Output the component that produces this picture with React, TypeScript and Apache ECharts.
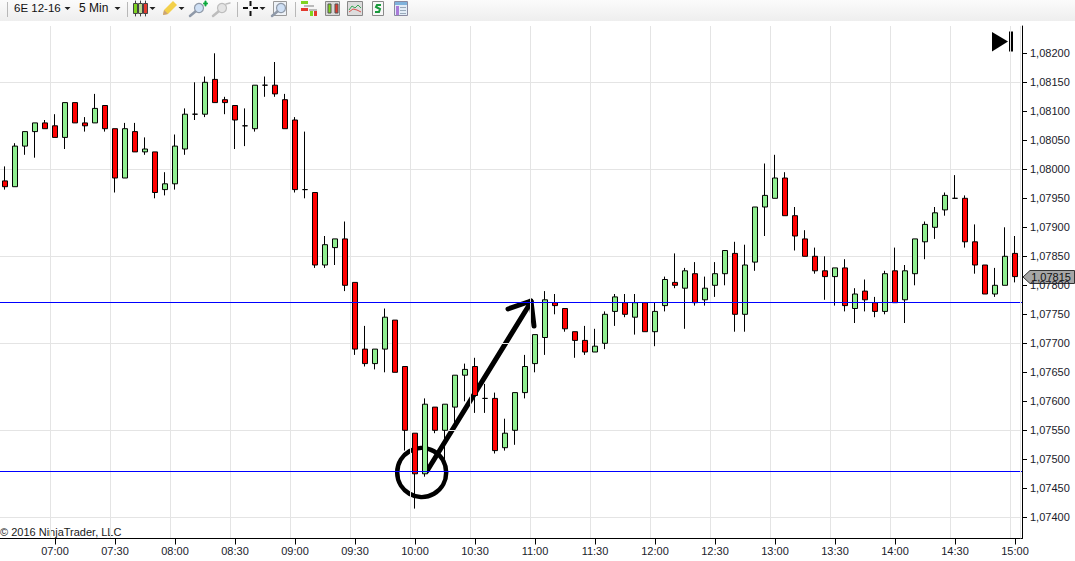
import React, { useEffect, useRef } from "react";
import * as echarts from "echarts";

// Prices in units of 0.00001, one bar every 5 minutes from 06:35 to 15:00
const opens = [107980,107970,108040,108065,108080,108075,108055,108115,108080,108080,108110,108070,107985,108065,108030,108030,107965,107975,108035,108095,108095,108155,108120,108110,108075,108070,108145,108145,108120,108085,107965,107960,107835,107865,107880,107805,107690,107665,107690,107740,107660,107545,107475,107590,107550,107590,107645,107660,107605,107605,107520,107550,107615,107665,107710,107770,107760,107720,107705,107685,107700,107755,107770,107745,107770,107720,107765,107805,107795,107820,107775,107800,107820,107855,107750,107840,107935,107950,107985,107920,107880,107850,107825,107815,107830,107760,107790,107770,107755,107825,107775,107820,107875,107900,107930,107950,107950,107875,107835,107785,107800,107855];
const closes = [107970,108040,108065,108080,108070,108055,108115,108080,108075,108105,108070,107985,108070,108030,108035,107960,107975,108040,108095,108095,108150,108115,108115,108085,108075,108145,108145,108130,108070,107965,107965,107835,107870,107880,107800,107690,107665,107690,107745,107650,107550,107475,107595,107550,107595,107645,107655,107610,107605,107515,107545,107615,107660,107715,107775,107765,107725,107705,107685,107695,107750,107780,107750,107770,107720,107755,107810,107800,107825,107770,107795,107820,107860,107750,107835,107935,107955,107985,107920,107885,107850,107825,107815,107830,107765,107785,107775,107755,107820,107770,107825,107880,107905,107925,107955,107950,107875,107835,107785,107800,107850,107815];
const lows = [107965,107970,108025,108020,108070,108055,108035,108080,108065,108080,108065,107960,107985,108030,108025,107950,107955,107965,108025,108085,108090,108115,108095,108035,108040,108065,108125,108125,108070,107960,107950,107830,107830,107835,107790,107680,107660,107655,107650,107650,107515,107415,107470,107545,107500,107555,107600,107580,107580,107510,107515,107525,107605,107650,107680,107750,107720,107675,107680,107685,107690,107730,107745,107715,107720,107695,107755,107795,107725,107765,107765,107780,107800,107720,107720,107825,107885,107950,107920,107860,107850,107820,107775,107765,107755,107735,107755,107745,107750,107770,107735,107800,107845,107880,107920,107950,107865,107820,107785,107780,107800,107805];
const highs = [108005,108045,108065,108080,108085,108095,108115,108115,108090,108130,108110,108070,108080,108080,108055,108030,107995,108060,108105,108150,108160,108200,108125,108110,108105,108145,108160,108185,108130,108090,108065,107960,107885,107880,107910,107805,107730,107690,107760,107740,107660,107545,107605,107590,107595,107645,107665,107675,107630,107615,107570,107615,107680,107715,107790,107785,107760,107720,107730,107725,107755,107785,107785,107785,107770,107770,107815,107855,107830,107840,107815,107840,107860,107875,107870,107935,108010,108025,107995,107935,107895,107865,107850,107830,107845,107795,107810,107780,107825,107865,107835,107880,107910,107935,107960,107990,107955,107905,107835,107830,107900,107885];

const firstBarMinutes = 6 * 60 + 35;
const labelledTimes = ["07:00","07:30","08:00","08:30","09:00","09:30","10:00","10:30","11:00","11:30","12:00","12:30","13:00","13:30","14:00","14:30","15:00"];
const priceTicks = [1.074,1.0745,1.075,1.0755,1.076,1.0765,1.077,1.0775,1.078,1.0785,1.079,1.0795,1.08,1.0805,1.081,1.0815,1.082];
const priceGridLines = [1.074,1.0755,1.077,1.0785,1.08,1.0815];
const levelUpper = 1.07771;
const levelLower = 1.07479;
const lastPrice = "1,07815";

const pad = (n: number) => String(n).padStart(2, "0");
const categories = opens.map((_, i) => {
  const m = firstBarMinutes + i * 5;
  return `${pad(Math.floor(m / 60))}:${pad(m % 60)}`;
});
const candleData = opens.map((o, i) => [o / 1e5, closes[i] / 1e5, lows[i] / 1e5, highs[i] / 1e5]);
const isLabelled = (_: number, v: string) => labelledTimes.includes(v);
const FONT = "'Liberation Sans', Arial, sans-serif";

const rect = (x: number, y: number, w: number, h: number, fill: string, stroke?: string) => ({
  type: "rect", shape: { x, y, width: w, height: h }, style: { fill, stroke: stroke ?? "none", lineWidth: stroke ? 1 : 0 },
});
const line = (x1: number, y1: number, x2: number, y2: number, stroke: string, lineWidth = 1) => ({
  type: "line", shape: { x1, y1, x2, y2 }, style: { stroke, lineWidth, lineCap: "round" },
});
const crisp = (x1: number, y1: number, x2: number, y2: number, stroke: string) => ({
  type: "line", shape: { x1, y1, x2, y2 }, style: { stroke, lineWidth: 1, lineCap: "butt" },
});
const poly = (points: number[][], fill: string) => ({ type: "polygon", shape: { points }, style: { fill } });
const caret = (x: number) => poly([[x - 3, 7], [x + 3, 7], [x, 10]], "#222");
const lens = (x: number, y: number, c: string, c2: string) => [
  line(x - 9, y + 8, x - 3, y + 3, c, 2.5),
  { type: "circle", shape: { cx: x, cy: y, r: 4.5 }, style: { fill: c2, stroke: c, lineWidth: 1.2 } },
];

const toolbar: any[] = [
  { type: "rect", shape: { x: 0, y: 0, width: 1075, height: 21 }, style: { fill: new echarts.graphic.LinearGradient(0, 0, 0, 1, [{ offset: 0, color: "#fbfbfb" }, { offset: 1, color: "#eeeeee" }]) } },
  crisp(7.5, 2, 7.5, 17, "#b8b8b8"), crisp(127.5, 2, 127.5, 17, "#b8b8b8"), crisp(237.5, 2, 237.5, 17, "#b8b8b8"), crisp(295.5, 2, 295.5, 17, "#b8b8b8"),
  { type: "text", x: 14, y: 8, style: { text: "6E 12-16", font: `11.5px ${FONT}`, fill: "#111", textVerticalAlign: "middle" } },
  { type: "text", x: 79, y: 8, style: { text: "5 Min", font: `12px ${FONT}`, fill: "#111", textVerticalAlign: "middle" } },
  caret(67.5), caret(117.5), caret(152.5), caret(181.5), caret(262.5),
  // candlestick picker
  line(135.5, 1, 135.5, 16, "#444"), rect(133.5, 3.5, 4, 10, "#7ed321", "#444"),
  line(140.5, 1, 140.5, 16, "#444"), rect(138.5, 3.5, 4, 10, "#b9d88c", "#444"),
  line(145.5, 1, 145.5, 16, "#444"), rect(143.5, 3.5, 4, 10, "#e23a2e", "#444"),
  // pencil
  poly([[163, 15], [164, 10], [173, 1], [177, 5], [168, 14]], "#f3d04b"),
  poly([[163, 15], [164, 10], [168, 14]], "#c9a27a"),
  // magnifiers
  ...lens(199, 8, "#8f99a8", "#cfe0f5"), line(204, 3.5, 207, 3.5, "#0aa83c", 2), line(205.5, 1.5, 205.5, 5.5, "#0aa83c", 2),
  ...lens(222, 8, "#bdbdbd", "#e4e4e4"), line(226, 4, 230, 3, "#bdbdbd", 1.5),
  // crosshair
  rect(243, 7, 5, 2, "#111"), rect(253, 7, 5, 2, "#111"), rect(249.5, 1, 2, 5, "#111"), rect(249.5, 11, 2, 5, "#111"),
  // zoom box
  rect(273.5, 1.5, 13, 14, "#eef2f7", "#9a9a9a"), ...lens(281, 8, "#8f99a8", "#cfe0f5"),
  // panels
  rect(301, 1, 7, 3, "#7ed321"), rect(301, 8, 7, 3, "#e23a2e"), rect(304, 5, 10, 2, "#bbbbbb"), rect(309, 9, 8, 2, "#bbbbbb"),
  rect(310, 11, 3, 5, "#7ed321"), rect(314, 11, 3, 5, "#e23a2e"),
  rect(325.5, 1.5, 14, 14, "#d8d8d8", "#888"), rect(328, 4, 3, 9, "#7ed321", "#555"), rect(335, 4, 3, 9, "#e23a2e", "#555"),
  rect(347.5, 1.5, 15, 14, "#dddddd", "#888"),
  { type: "polyline", shape: { points: [[349, 10], [352, 6], [355, 8], [358, 5], [361, 8]] }, style: { stroke: "#3aa655", fill: "none", lineWidth: 1 } },
  { type: "polyline", shape: { points: [[349, 12], [353, 9], [357, 10], [361, 12]] }, style: { stroke: "#d9534f", fill: "none", lineWidth: 1 } },
  rect(372.5, 1.5, 11, 14, "#f7f7f7", "#8a8a8a"),
  { type: "polyline", shape: { points: [[381, 5], [377, 5], [376, 7], [380, 9], [379, 12], [375, 12]] }, style: { stroke: "#1a9a3c", fill: "none", lineWidth: 2 } },
  rect(394.5, 1.5, 13, 14, "#e3edf7", "#8a8aa0"), rect(395, 2, 12, 3, "#7fb2dc"), rect(396, 6, 3, 9, "#a97bd9"),
  rect(400, 7, 6, 1, "#9ab"), rect(400, 10, 6, 1, "#9ab"), rect(400, 13, 6, 1, "#9ab"),
];

const annotations: any[] = [
  { type: "text", x: 0, y: 532, style: { text: "© 2016 NinjaTrader, LLC", font: `11px ${FONT}`, fill: "#1a1a1a", textVerticalAlign: "middle" } },
  // go-to-end button
  poly([[992, 32], [992, 51.5], [1008, 41.5]], "#000"), rect(1009, 31.5, 4, 20, "#000"),
  // annotation circle and arrow
  { type: "circle", shape: { cx: 421.7, cy: 472.5, r: 24.5 }, style: { fill: "none", stroke: "#000", lineWidth: 4.5 } },
  line(427, 471, 531, 302, "#000", 5),
  line(531, 301, 508, 309, "#000", 5),
  line(531, 301, 534, 326, "#000", 5),
  // last-price marker
  { type: "polygon", shape: { points: [[1023, 277], [1030, 270.5], [1074.5, 270.5], [1074.5, 283.5], [1030, 283.5]] }, style: { fill: "#a6a6a6", stroke: "#333", lineWidth: 1 } },
  { type: "text", x: 1051, y: 277, style: { text: lastPrice, font: `11px ${FONT}`, fill: "#111", textAlign: "center", textVerticalAlign: "middle" } },
  // joins the bottom axis and the level lines to the price axis
  crisp(1019, 538.5, 1022.5, 538.5, "#000"),
  crisp(1019, 302.5, 1022, 302.5, "#0000ff"),
  crisp(1019, 471.5, 1022, 471.5, "#0000ff"),
];

export default function App() {
  const ref = useRef<HTMLDivElement>(null);
  useEffect(() => {
    const chart = echarts.init(ref.current!, undefined, { renderer: "svg" });
    const levelStyle = { color: "#0000ff", width: 1, type: "solid" };
    chart.setOption({
      animation: false,
      backgroundColor: "#ffffff",
      textStyle: { fontFamily: FONT },
      grid: { left: 0, right: 55, top: 26, bottom: 22.5, containLabel: false },
      xAxis: {
        type: "category",
        data: categories,
        boundaryGap: true,
        axisLine: { show: true, lineStyle: { color: "#000", width: 1 } },
        axisTick: { show: true, alignWithLabel: true, interval: isLabelled, length: 6, lineStyle: { color: "#000", width: 1 } },
        axisLabel: { show: true, interval: isLabelled, color: "#1a1a2a", fontSize: 11, fontFamily: FONT, margin: 7 },
        splitLine: { show: true, interval: isLabelled, lineStyle: { color: "#e4e4e4", width: 1 } },
      },
      yAxis: [
        {
          type: "value",
          position: "right",
          offset: 2,
          min: 1.0736345,
          max: 1.0824707,
          scale: true,
          axisLine: { show: true, onZero: false, lineStyle: { color: "#000", width: 1 } },
          axisTick: { show: true, length: 5, customValues: priceTicks, lineStyle: { color: "#000", width: 1 } },
          axisLabel: {
            show: true,
            customValues: priceTicks,
            color: "#1a1a2a",
            fontSize: 11,
            fontFamily: FONT,
            margin: 8,
            padding: [2, 0, 0, 0],
            formatter: (v: number) => v.toFixed(5).replace(".", ","),
          },
          splitLine: { show: false },
        },
        {
          type: "value",
          position: "left",
          min: 1.0736345,
          max: 1.0824707,
          scale: true,
          axisLine: { show: false },
          axisTick: { show: false, customValues: priceGridLines },
          axisLabel: { show: false },
          splitLine: { show: true, lineStyle: { color: "#e4e4e4", width: 1 } },
        },
      ],
      series: [
        {
          type: "candlestick",
          name: "6E 12-16",
          data: candleData,
          barWidth: 6,
          yAxisIndex: 0,
          clip: false,
          itemStyle: {
            color: "#90ee90",
            color0: "#ff0000",
            borderColor: "#000",
            borderColor0: "#000",
            borderColorDoji: "#000",
            borderWidth: 1,
          },
          markLine: {
            silent: true,
            symbol: "none",
            precision: 5,
            label: { show: false },
            lineStyle: levelStyle,
            emphasis: { disabled: true },
            data: [
              { yAxis: levelUpper, lineStyle: levelStyle },
              { yAxis: levelLower, lineStyle: levelStyle },
            ],
          },
        },
      ],
      graphic: { elements: [...toolbar, ...annotations] },
    });
    return () => chart.dispose();
  }, []);
  return <div ref={ref} style={{ position: "fixed", left: 0, top: 0, width: 1075, height: 561 }} />;
}
